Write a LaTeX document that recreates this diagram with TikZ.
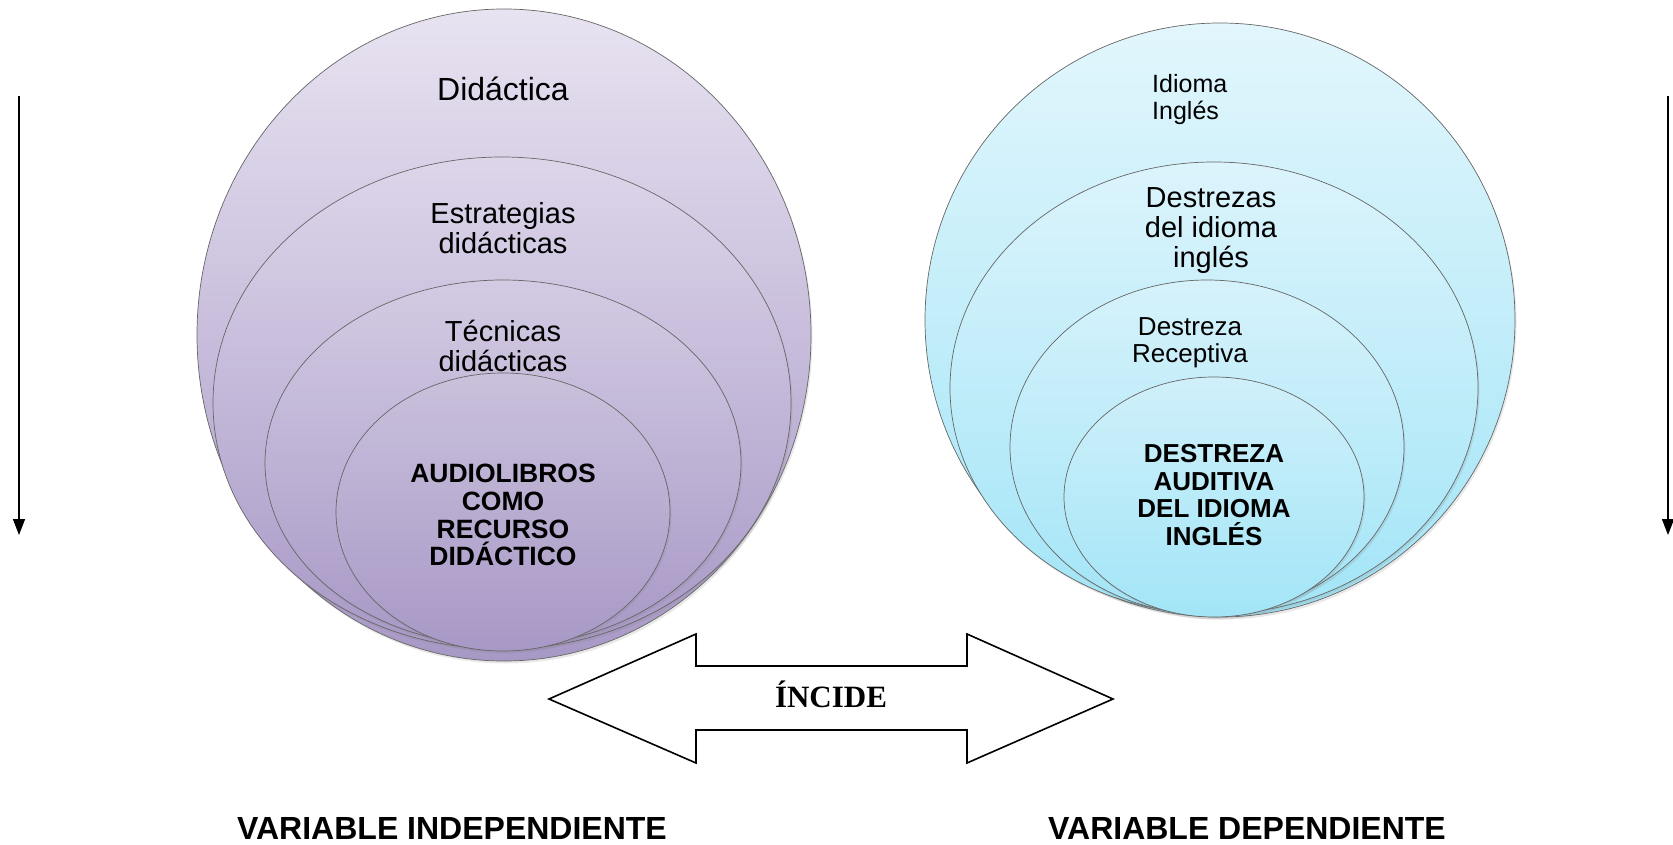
\documentclass[tikz,border=0pt]{standalone}
\usepackage{fontspec}
\setmainfont{Liberation Sans}
\newfontfamily\timesfont{Liberation Serif}
\usetikzlibrary{shapes.geometric,arrows.meta,shadows}
\definecolor{pbot}{HTML}{A898C6}
\definecolor{bbot}{HTML}{A2E5F7}
\definecolor{pA}{HTML}{E8E3F1}
\definecolor{pB}{HTML}{DDD6EA}
\definecolor{pC}{HTML}{D3CBE3}
\definecolor{pD}{HTML}{CAC1DC}
\definecolor{bA}{HTML}{E2F6FC}
\definecolor{bB}{HTML}{DCF4FC}
\definecolor{bC}{HTML}{D6F2FB}
\definecolor{bD}{HTML}{D0F0FA}
\begin{document}
\begin{tikzpicture}[x=1pt,y=-1pt,
  bubble/.style={ellipse, draw=black!60, line width=0.7pt, inner sep=0pt,
     drop shadow={opacity=0.18, shadow xshift=1.5pt, shadow yshift=-2.5pt}},
  pbub/.style={bubble, top color=#1, bottom color=pbot},
  bbub/.style={bubble, top color=#1, bottom color=bbot},
  lbl/.style={align=center, inner sep=0pt, font=\fontsize{29}{30}\selectfont},
  blbl/.style={align=center, inner sep=0pt, font=\bfseries\fontsize{26.5}{27.8}\selectfont},
  vlbl/.style={inner sep=0pt, font=\bfseries\fontsize{32}{36}\selectfont},
  varrow/.style={line width=1.6pt, -{Triangle[width=12pt,length=16pt]}}]
\useasboundingbox (0,0) rectangle (1673,845);
\fill[white] (0,0) rectangle (1673,845);

% vertical arrows
\coordinate (la1) at (19,96);
\coordinate (la2) at (19,535);
\coordinate (ra1) at (1668,96);
\coordinate (ra2) at (1668,535);
\draw[varrow] (la1) -- (la2);
\draw[varrow] (ra1) -- (ra2);

% left group
\node[pbub=pA, minimum width=614, minimum height=652] (L1) at (504,335) {};
\node[pbub=pB, minimum width=578, minimum height=492] (L2) at (502,403) {};
\node[pbub=pC, minimum width=476, minimum height=366] (L3) at (503,463) {};
\node[pbub=pD, minimum width=334, minimum height=278] (L4) at (503,512) {};

\node[lbl, font=\fontsize{32}{36}\selectfont] (tL1) at (503,89) {Didáctica};
\node[lbl] (tL2) at (503,228) {Estrategias\\didácticas};
\node[lbl] (tL3) at (503,346) {Técnicas\\didácticas};
\node[blbl] (tL4) at (503,515) {AUDIOLIBROS\\COMO\\RECURSO\\DIDÁCTICO};

% right group
\node[bbub=bA, minimum width=590, minimum height=594] (R1) at (1220,320) {};
\node[bbub=bB, minimum width=528, minimum height=452] (R2) at (1214,388) {};
\node[bbub=bC, minimum width=394, minimum height=334] (R3) at (1207,447) {};
\node[bbub=bD, minimum width=300, minimum height=240] (R4) at (1214,497) {};

\node[lbl, align=left, anchor=west, font=\fontsize{25}{27}\selectfont] (tR1) at (1152,100) {Idioma\\Inglés};
\node[lbl] (tR2) at (1211,231) {Destrezas\\del idioma\\inglés};
\node[lbl, font=\fontsize{26}{27}\selectfont] (tR3) at (1190,343) {Destreza\\Receptiva};
\node[blbl, font=\bfseries\fontsize{26}{27.5}\selectfont] (tR4) at (1214,495) {DESTREZA\\AUDITIVA\\DEL IDIOMA\\INGLÉS};

% double arrow
\draw[line width=1.6pt, fill=white, line join=miter]
  (549,699) -- (696,634) -- (696,666) -- (967,666) -- (967,634) -- (1113,699)
  -- (967,763) -- (967,730) -- (696,730) -- (696,763) -- cycle;
\node[inner sep=0pt, font=\timesfont\bfseries\fontsize{31}{34}\selectfont] (inc) at (831,694) {ÍNCIDE};

% variable labels
\node[vlbl] (vi) at (452,828) {VARIABLE INDEPENDIENTE};
\node[vlbl] (vd) at (1247,828) {VARIABLE DEPENDIENTE};
\end{tikzpicture}
\end{document}
